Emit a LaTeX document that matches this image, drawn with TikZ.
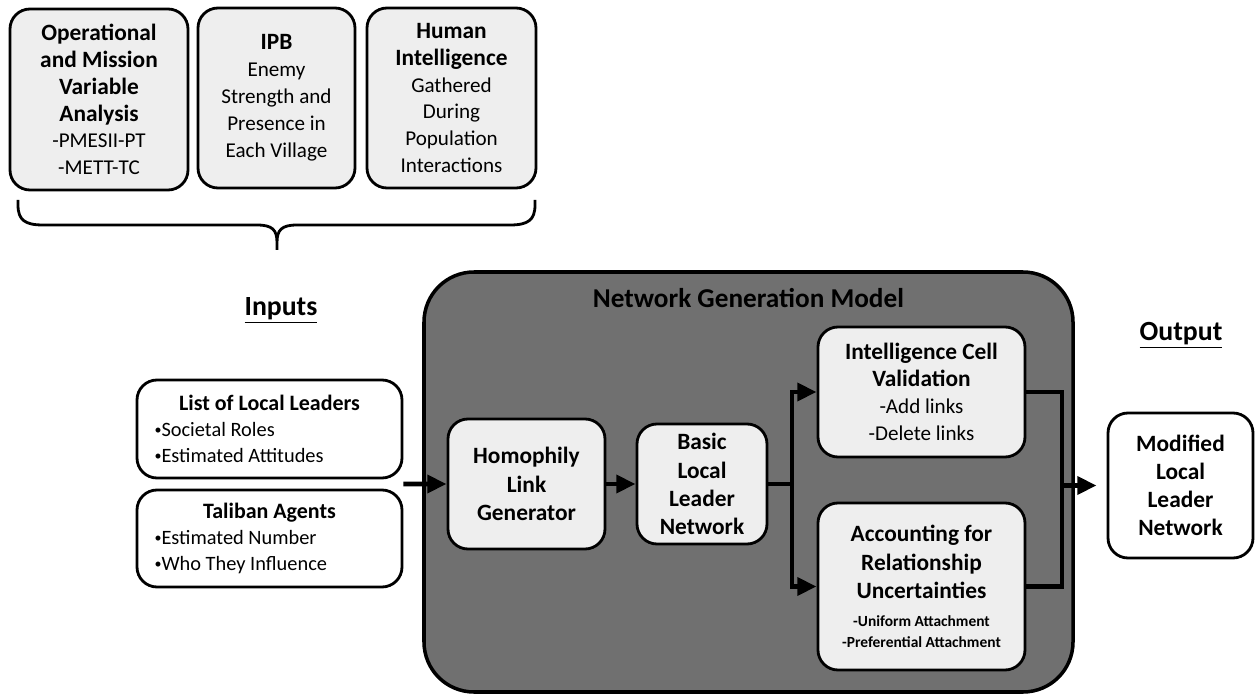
\documentclass[tikz,border=0pt]{standalone}
\usepackage{fontspec}
\setmainfont{Carlito}
\usepackage{tikz}
\definecolor{boxgray}{RGB}{238,238,238}
\definecolor{modelgray}{RGB}{112,112,112}
\usetikzlibrary{arrows.meta,calc}
\newcommand{\hd}[1]{{\fontsize{13.3}{15}\selectfont\bfseries #1}}
\newcommand{\bul}{\raisebox{0.12em}{\fontsize{8}{8}\selectfont\textbullet}}

\begin{document}
\begin{tikzpicture}[
    inbox/.style={draw, line width=1.6pt, rounded corners=0.4cm, fill=boxgray, align=center,
        inner sep=2pt, font=\fontsize{12}{15.3}\selectfont},
    listbox/.style={draw, line width=1.6pt, rounded corners=0.4cm, fill=white, inner sep=2pt,
        minimum width=5.3cm, text width=4.6cm, align=flush left, font=\fontsize{11.6}{15}\selectfont},
    stagebox/.style={draw, line width=1.6pt, rounded corners=0.4cm, fill=boxgray, align=center,
        inner sep=2pt, font=\fontsize{13.3}{16}\selectfont\bfseries},
    modelbox/.style={draw, line width=2pt, rounded corners=1cm, fill=modelgray},
    conn/.style={line width=2.8pt},
    flow/.style={line width=2.8pt, -{Triangle[length=11pt,width=10pt]}},
    heading/.style={font=\fontsize{15.8}{18}\selectfont\bfseries}
]
    \useasboundingbox (0,0) rectangle (25.14,-13.92);

    % Sources feeding the inputs
    \node[inbox, minimum width=3.56cm, minimum height=3.62cm] (ops) at (1.98,-1.99)
        {\hd{Operational}\\ \hd{and Mission}\\ \hd{Variable}\\ \hd{Analysis}\\ -PMESII-PT\\ -METT-TC};
    \node[inbox, minimum width=3.14cm, minimum height=3.6cm] (ipb) at (5.53,-1.96)
        {\hd{IPB}\\ Enemy\\ Strength and\\ Presence in\\ Each Village};
    \node[inbox, minimum width=3.38cm, minimum height=3.6cm] (humint) at (9.03,-1.96)
        {\hd{Human}\\ \hd{Intelligence}\\ Gathered\\ During\\ Population\\ Interactions};

    % Brace
    \draw[line width=1.6pt] (0.36,-4.0) -- (0.36,-4.1)
        .. controls (0.36,-4.4) and (0.5,-4.5) .. (0.86,-4.5) -- (5.14,-4.5)
        .. controls (5.45,-4.5) and (5.54,-4.6) .. (5.54,-4.85) -- (5.54,-5.0)
        (5.54,-4.85) .. controls (5.54,-4.6) and (5.63,-4.5) .. (5.94,-4.5) -- (10.2,-4.5)
        .. controls (10.56,-4.5) and (10.7,-4.4) .. (10.7,-4.1) -- (10.7,-4.0);

    % Inputs
    \node[heading] (inputs) at (5.62,-6.2) {\underline{Inputs}};
    \node[listbox, minimum height=1.96cm] (leaders) at (5.39,-8.58)
        {{\centering\fontsize{12.5}{15}\selectfont\bfseries List of Local Leaders\par}
         \bul Societal Roles\\ \bul Estimated Attitudes};
    \node[listbox, minimum height=1.94cm] (taliban) at (5.39,-10.77)
        {{\centering\fontsize{12.5}{15}\selectfont\bfseries Taliban Agents\par}
         \bul Estimated Number\\ \bul Who They Influence};
    \coordinate (inpt) at ($(leaders.south east)!0.5!(taliban.north east)$);

    % Model
    \node[modelbox, minimum width=12.98cm, minimum height=8.4cm] (model) at (14.97,-9.64) {};
    \node[font=\fontsize{15.5}{18}\selectfont\bfseries] (title) at (14.97,-5.96) {Network Generation Model};

    \node[stagebox, minimum width=3.14cm, minimum height=2.6cm] (homophily) at (10.53,-9.68)
        {Homophily\\ Link\\ Generator};
    \node[stagebox, minimum width=2.6cm, minimum height=2.4cm] (basic) at (14.04,-9.68)
        {Basic\\ Local\\ Leader\\ Network};
    \node[stagebox, minimum width=4.14cm, minimum height=2.6cm,
        font=\fontsize{12}{15.5}\selectfont] (intel) at (18.43,-7.84)
        {\hd{Intelligence Cell}\\ \hd{Validation}\\ -Add links\\ -Delete links};
    \node[stagebox, minimum width=4.14cm, minimum height=3.34cm] (account) at (18.43,-11.73)
        {Accounting for\\ Relationship\\ Uncertainties\\
         {\fontsize{8.8}{10}\selectfont -Uniform Attachment}\\[-4pt]
         {\fontsize{8.8}{10}\selectfont -Preferential Attachment}};

    % Output
    \node[heading] (output) at (23.62,-6.7) {\underline{Output}};
    \node[stagebox, fill=white, minimum width=2.9cm, minimum height=2.9cm] (modified) at (23.61,-9.71)
        {Modified\\ Local\\ Leader\\ Network};

    % Connectors
    \coordinate (split) at (15.84,-9.68);
    \coordinate (merge) at (21.24,-9.71);
    \draw[flow] (inpt) -- (homophily.west);
    \draw[flow] (homophily) -- (basic);
    \draw[conn] (basic.east) -- (split);
    \draw[flow] (split) |- (intel.west);
    \draw[flow] (split) |- (account.west);
    \draw[conn] (intel.east) -| (merge) |- (account.east);
    \draw[flow, shorten >=0.2cm] (merge) -- (modified.west);
\end{tikzpicture}
\end{document}
